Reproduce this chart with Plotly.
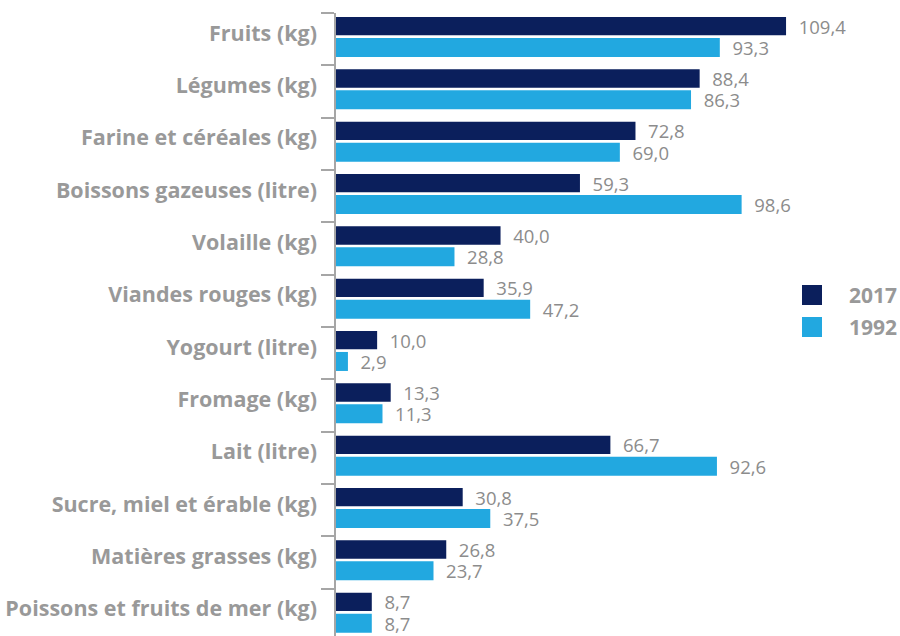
import plotly.graph_objects as go

categories = [
    "Fruits (kg)",
    "Légumes (kg)",
    "Farine et céréales (kg)",
    "Boissons gazeuses (litre)",
    "Volaille (kg)",
    "Viandes rouges (kg)",
    "Yogourt (litre)",
    "Fromage (kg)",
    "Lait (litre)",
    "Sucre, miel et érable (kg)",
    "Matières grasses (kg)",
    "Poissons et fruits de mer (kg)",
]
values_2017 = [109.4, 88.4, 72.8, 59.3, 40.0, 35.9, 10.0, 13.3, 66.7, 30.8, 26.8, 8.7]
values_1992 = [93.3, 86.3, 69.0, 98.6, 28.8, 47.2, 2.9, 11.3, 92.6, 37.5, 23.7, 8.7]
series_names = ["2017", "1992"]

DARK = "#0b1f5c"
LIGHT = "#22a8e0"
GREY = "#999999"
VAL_GREY = "#8c8c8c"

W, H = 900, 641
ML, MR, MT, MB = 336, 0, 13, 0
PW, PH = W - ML - MR, H - MT - MB


def px_x(px):
    return (px - ML) / PW


def px_y(py):
    return 1 - (py - MT) / PH


fig = go.Figure()
colors = [DARK, LIGHT]
offsets = [-0.424, -0.023]
widths = [0.35, 0.363]
for name, vals, col, off, wd in zip(series_names, [values_2017, values_1992], colors, offsets, widths):
    fig.add_trace(go.Bar(
        y=categories, x=vals, orientation="h", name=name,
        offset=off, width=wd,
        marker=dict(color=col, line=dict(width=0)),
        texttemplate="\u00a0\u00a0%{x:.1f}", textposition="outside",
        textfont=dict(family="Open Sans", size=18.5, color=VAL_GREY),
        constraintext="none", cliponaxis=False,
        hoverinfo="skip",
    ))

# legend drawn as squares + labels
shapes = []
annotations = []
for i, (name, col) in enumerate(zip(series_names, colors)):
    cy = 295 + 32 * i
    shapes.append(dict(
        type="rect", xref="paper", yref="paper",
        x0=px_x(802), x1=px_x(822), y0=px_y(cy + 10), y1=px_y(cy - 10),
        fillcolor=col, line=dict(width=0),
    ))
    annotations.append(dict(
        xref="paper", yref="paper", x=px_x(847), y=px_y(cy),
        xanchor="left", yanchor="middle", showarrow=False,
        text=f"<b>{name}</b>",
        font=dict(family="Open Sans", size=21, color=GREY),
    ))

fig.update_layout(
    width=W, height=H,
    margin=dict(l=ML, r=MR, t=MT, b=MB, autoexpand=False),
    paper_bgcolor="white", plot_bgcolor="white",
    barmode="group",
    separators=", ",
    showlegend=False,
    font=dict(family="Open Sans", color=GREY),
    xaxis=dict(range=[0, 137.1], visible=False, fixedrange=True),
    yaxis=dict(
        autorange="reversed", type="category", automargin=False, fixedrange=True,
        showline=True, linecolor="#a6a6a6", linewidth=1.5,
        ticks="outside", tickson="boundaries", ticklen=13, tickcolor="#a6a6a6", tickwidth=1.5,
        ticklabelstandoff=13, ticklabelshift=6,
        tickfont=dict(family="Open Sans", size=21.5, color=GREY, weight="bold"),
        showgrid=False,
    ),
    shapes=shapes,
    annotations=annotations,
)

fig.write_html(
    "out.html",
    config={"displayModeBar": False},
    post_script="document.body.style.margin='0';document.body.style.overflow='hidden';",
)
